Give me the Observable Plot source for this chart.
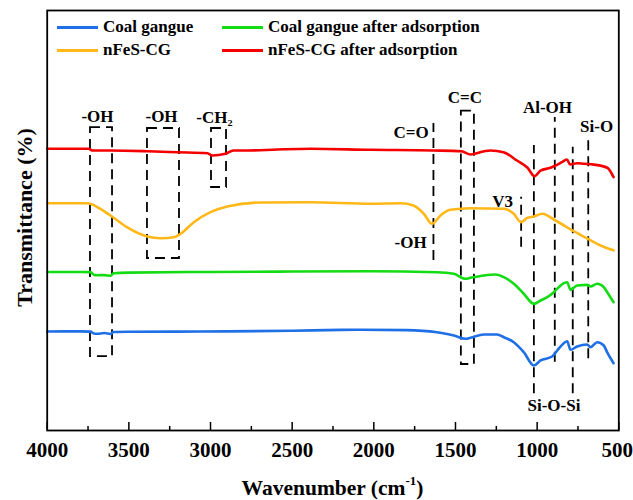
<!DOCTYPE html>
<html>
<head>
<meta charset="utf-8">
<script src="https://cdn.jsdelivr.net/npm/d3@7"></script>
<script src="https://cdn.jsdelivr.net/npm/@observablehq/plot@0.6"></script>
<style>
  html, body { margin: 0; padding: 0; background: #fff; }
  #chart { position: relative; width: 633px; height: 500px; font-family: "Liberation Serif", "Times New Roman", serif; font-weight: bold; color: #000; }
  #chart svg { position: absolute; left: 0; top: 0; }
  .legend-item { position: absolute; display: flex; align-items: center; height: 20px; line-height: 20px; font-size: 17px; white-space: nowrap; }
  .legend-item .swatch { display: inline-block; width: 41px; height: 3px; margin-right: 5px; }
  #xtitle { position: absolute; left: 46.7px; width: 571.6px; top: 476px; text-align: center; font-size: 21.5px; line-height: 1.15; }
  #xtitle sup { font-size: 0.6em; line-height: 0; vertical-align: 0.75em; }
</style>
</head>
<body>
<div id="chart"></div>
<script>
// FTIR spectra: [wavenumber (cm-1), transmittance (a.u., offset for display)]
const coalGangue = [
  [4000, 23.57], [3800, 23.6], [3735, 23.55], [3715, 23.1], [3696, 23.02], [3650, 23.2],
  [3612, 22.98], [3594, 23.45], [3500, 23.5], [3200, 23.55], [2900, 23.6], [2500, 23.75],
  [2200, 23.95], [2082, 23.98], [1800, 23.9], [1614, 23.4], [1576, 23.17], [1510, 22.62],
  [1439, 21.83], [1408, 22.07], [1327, 22.86], [1245, 22.86], [1204, 22.21], [1143, 21.02],
  [1082, 18.64], [1020, 15.48], [979, 16.67], [908, 17.62], [877, 19.05], [837, 20.79],
  [816, 21.26], [796, 19.21], [755, 20.0], [694, 20.48], [673, 19.83], [632, 21.02],
  [592, 20.24], [571, 18.6], [532, 16.02]
];
const coalGangueAdsorbed = [
  [4000, 37.74], [3800, 37.74], [3735, 37.7], [3715, 37.1], [3696, 36.98], [3650, 37.0],
  [3612, 36.83], [3594, 37.45], [3500, 37.6], [3000, 37.75], [2500, 37.85], [2020, 37.93],
  [1614, 37.69], [1510, 37.3], [1439, 36.12], [1408, 36.35], [1327, 36.9], [1255, 37.14],
  [1204, 36.5], [1143, 34.93], [1082, 32.55], [1020, 30.16], [979, 30.95], [938, 31.75],
  [898, 32.93], [867, 34.13], [837, 35.08], [816, 35.31], [796, 33.49], [755, 34.52],
  [694, 34.68], [673, 34.29], [632, 34.93], [592, 34.13], [571, 32.93], [532, 30.55]
];
const nFeSCG = [
  [4000, 54.12], [3760, 54.12], [3735, 54.0], [3680, 52.9], [3612, 51.19], [3512, 48.4],
  [3388, 46.19], [3306, 45.79], [3225, 46.02], [3184, 46.83], [3102, 49.6], [3000, 51.98],
  [2898, 53.33], [2694, 54.29], [2388, 54.36], [2020, 54.0], [1837, 54.12], [1757, 53.57],
  [1694, 51.6], [1643, 49.21], [1592, 51.19], [1531, 52.55], [1408, 52.93], [1204, 52.79],
  [1143, 51.6], [1099, 49.6], [1061, 50.6], [1020, 50.95], [969, 51.6], [888, 50.0],
  [782, 47.6], [687, 45.6], [612, 44.05], [532, 42.9]
];
const nFeSCGAdsorbed = [
  [4000, 67.07], [3745, 67.07], [3725, 66.67], [3612, 66.67], [3386, 66.5], [3202, 66.26],
  [3018, 66.02], [2990, 65.48], [2908, 65.88], [2860, 66.67], [2773, 66.67], [2590, 66.9],
  [2388, 67.07], [2020, 66.83], [1637, 66.67], [1464, 66.5], [1408, 65.71], [1323, 66.5],
  [1286, 66.67], [1206, 66.26], [1124, 64.29], [1059, 62.55], [1016, 60.55], [979, 61.9],
  [918, 62.55], [900, 62.86], [849, 63.88], [818, 64.52], [798, 63.33], [755, 63.64],
  [714, 63.5], [653, 63.3], [571, 62.55], [532, 60.31]
];

const seriesNames = ["Coal gangue", "nFeS-CG", "Coal gangue after adsorption", "nFeS-CG after adsorption"];
const seriesData = [coalGangue, nFeSCG, coalGangueAdsorbed, nFeSCGAdsorbed];
const seriesColors = ["#1f6fe6", "#ffb817", "#14dc14", "#f50000"];

// Band assignments
const bandBoxes = [
  {x1: 3735, x2: 3600, y1: 17.6, y2: 72.1},
  {x1: 3386, x2: 3190, y1: 40.95, y2: 71.9},
  {x1: 2994, x2: 2902, y1: 57.86, y2: 71.9},
  {x1: 1464, x2: 1384, y1: 15.71, y2: 76.02}
];
const bandLines = [
  {x: 1635, y1: 40.5, y2: 73.1},
  {x: 1098, y1: 43.64, y2: 55.55},
  {x: 1020, y1: 8.74, y2: 67.86},
  {x: 892, y1: 16.26, y2: 74.52},
  {x: 782, y1: 8.74, y2: 67.45},
  {x: 687, y1: 17.07, y2: 69.83}
];
const bandLabels = [
  {label: "-OH", x: 3692, y: 73.4},
  {label: "-OH", x: 3300, y: 73.4},
  {label: "-CH\u2082", x: 2976, y: 73.2},
  {label: "C=O", x: 1772, y: 69.76},
  {label: "C=C", x: 1442, y: 77.86},
  {label: "Al-OH", x: 937, y: 75.71},
  {label: "Si-O", x: 636, y: 71.19},
  {label: "V3", x: 1212, y: 53.33},
  {label: "-OH", x: 1775, y: 43.57},
  {label: "Si-O-Si", x: 897, y: 4.76}
];

const majorTicks = [4000, 3500, 3000, 2500, 2000, 1500, 1000, 500];
const minorTicks = [3750, 3250, 2750, 2250, 1750, 1250, 750];

const rows = seriesData.flatMap((arr, i) => arr.map(([wn, t]) => ({wn, t, series: seriesNames[i]})));

const dash = "10,6";
const tickLabelStyle = {tickSize: 0, tickPadding: 12, fontSize: 21, fontWeight: "bold", tickFormat: d => String(d), label: null};

const plot = Plot.plot({
  width: 633,
  height: 470,
  marginLeft: 46.7,
  marginRight: 14.7,
  marginTop: 10,
  marginBottom: 40,
  style: {fontFamily: "'Liberation Serif', 'Times New Roman', serif", fontWeight: "bold", background: "transparent", color: "#000"},
  x: {domain: [4000, 500]},
  y: {domain: [0, 100], axis: null},
  color: {domain: seriesNames, range: seriesColors},
  marks: [
    Plot.rect(bandBoxes, {x1: "x1", x2: "x2", y1: "y1", y2: "y2", fill: "none", stroke: "#000", strokeWidth: 1.8, strokeDasharray: dash}),
    Plot.ruleX(bandLines, {x: "x", y1: "y1", y2: "y2", stroke: "#000", strokeWidth: 1.8, strokeDasharray: dash}),
    Plot.line(rows, {x: "wn", y: "t", z: "series", stroke: "series", strokeWidth: 2.6, curve: "monotone-x"}),
    Plot.text(bandLabels, {x: "x", y: "y", text: "label", lineAnchor: "bottom", fontSize: 17, fontWeight: "bold", fill: "#000"}),
    Plot.tickX(majorTicks, {x: d => d, insetTop: 412, stroke: "#000", strokeWidth: 1.5}),
    Plot.tickX(minorTicks, {x: d => d, insetTop: 416, stroke: "#000", strokeWidth: 1.5}),
    Plot.axisX({...tickLabelStyle, ticks: majorTicks.slice(0, -1)}),
    // the last label sits at the right edge; nudge it inward so it stays whole
    Plot.axisX({...tickLabelStyle, ticks: majorTicks.slice(-1), dx: -1.5}),
    Plot.text(["Transmittance (%)"], {text: d => d, frameAnchor: "left", textAnchor: "middle", rotate: -90, dx: -22, dy: -3, fontSize: 22, fontWeight: "bold", fill: "#000"}),
    Plot.frame({stroke: "#000", strokeWidth: 1.8})
  ]
});

const chart = document.getElementById("chart");
chart.appendChild(plot);

// Legend, two columns inside the frame
const legendSlots = [
  {left: 57, top: 17}, {left: 57, top: 40}, {left: 222, top: 17}, {left: 222, top: 40}
];
seriesNames.forEach((name, i) => {
  const item = document.createElement("div");
  item.className = "legend-item";
  item.style.left = legendSlots[i].left + "px";
  item.style.top = legendSlots[i].top + "px";
  const sw = document.createElement("span");
  sw.className = "swatch";
  sw.style.background = seriesColors[i];
  const label = document.createElement("span");
  label.textContent = name;
  item.appendChild(sw);
  item.appendChild(label);
  chart.appendChild(item);
});

const xt = document.createElement("div");
xt.id = "xtitle";
xt.innerHTML = "Wavenumber (cm<sup>-1</sup>)";
chart.appendChild(xt);
</script>
</body>
</html>
